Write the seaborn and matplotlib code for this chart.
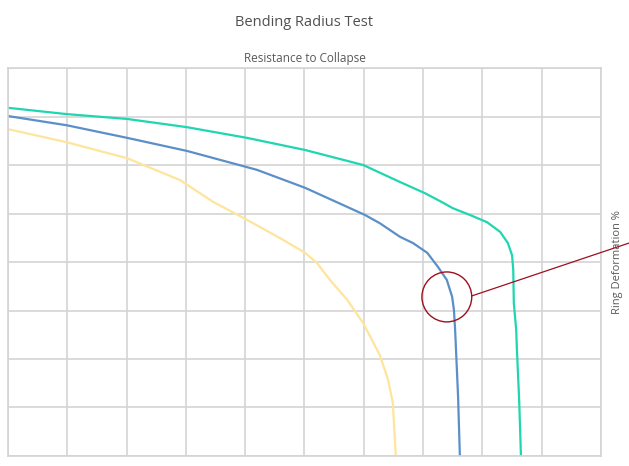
import pandas as pd
import numpy as np
import matplotlib.pyplot as plt
import seaborn as sns
from matplotlib.patches import Ellipse

# curve points (x in grid columns, y in grid rows)
teal_x = [0, 0.99, 2.01, 3.02, 4.03, 5.01, 5.99, 6.61, 7.03, 7.34, 7.50, 7.79, 8.08, 8.30,
          8.43, 8.50, 8.52, 8.53, 8.57, 8.58, 8.62, 8.65]
teal_y = [7.18, 7.05, 6.95, 6.78, 6.56, 6.31, 6.0, 5.65, 5.42, 5.22, 5.11, 4.97, 4.82, 4.62,
          4.39, 4.14, 3.84, 3.15, 2.60, 2.25, 1.15, 0]

blue_x = [0, 0.99, 2.01, 3.02, 4.20, 5.01, 6.02, 6.27, 6.61, 6.83, 7.07, 7.25, 7.40, 7.49,
          7.52, 7.54, 7.59, 7.62]
blue_y = [7.01, 6.82, 6.56, 6.29, 5.90, 5.53, 4.97, 4.80, 4.52, 4.39, 4.19, 3.90, 3.63, 3.28,
          3.01, 2.60, 1.22, 0]

yellow_x = [0, 0.99, 2.01, 2.90, 3.46, 4.03, 4.59, 5.01, 5.21, 5.43, 5.72, 5.99, 6.27, 6.41,
            6.49, 6.54]
yellow_y = [6.74, 6.47, 6.14, 5.69, 5.24, 4.87, 4.49, 4.19, 3.98, 3.63, 3.22, 2.74, 2.08, 1.57,
            1.09, 0]

series_names = ['teal', 'blue', 'yellow']
series_colors = {'teal': '#1fd6b0', 'blue': '#5b8fc8', 'yellow': '#fde59c'}

frames = []
for name, xs, ys in zip(series_names, [teal_x, blue_x, yellow_x], [teal_y, blue_y, yellow_y]):
    frames.append(pd.DataFrame({'x': xs, 'y': ys, 'series': name}))
df = pd.concat(frames, ignore_index=True)

# highlight circle and leader line
circle_center = (7.40, 3.28)
leader_end = (10.47, 4.39)

sns.set_theme(style="whitegrid")
plt.rcParams['font.family'] = ['Open Sans', 'DejaVu Sans']

fig = plt.figure(figsize=(6.29, 4.66), dpi=100)
ax = fig.add_axes([0.0127, 0.0215, 0.9428, 0.8325])

sns.lineplot(data=df, x='x', y='y', hue='series', palette=series_colors,
             sort=False, estimator=None, units='series', linewidth=1.6,
             legend=False, ax=ax)
for ln in ax.get_lines():
    ln.set_solid_joinstyle('round')

ax.set_xlim(0, 10)
ax.set_ylim(0, 8)
ax.set_xticks(np.arange(0, 11, 1))
ax.set_yticks(np.arange(0, 9, 1))
ax.set_xticklabels([])
ax.set_yticklabels([])
ax.tick_params(length=0)
ax.grid(True, color='#d4d4d4', linewidth=1.2)
for sp in ax.spines.values():
    sp.set_color('#d4d4d4')
    sp.set_linewidth(1.2)

ax.set_xlabel('')
ax.yaxis.set_label_position('right')
ax.set_ylabel('Ring Deformation %', fontsize=8, color='#595959', labelpad=8)
ax.set_title('Resistance to Collapse', fontsize=8.5, color='#595959', pad=4)
fig.suptitle('Bending Radius Test', fontsize=10.5, color='#505050', x=0.484, y=0.968)

circ = Ellipse(circle_center, width=0.84, height=1.03, fill=False,
               edgecolor='#9b1020', linewidth=1.0, zorder=5)
ax.add_patch(circ)
ax.plot([circle_center[0] + 0.42, leader_end[0]], [circle_center[1] + 0.02, leader_end[1]],
        color='#9b1020', linewidth=0.9, clip_on=False, zorder=5)

fig.savefig('out.png', dpi=100)
